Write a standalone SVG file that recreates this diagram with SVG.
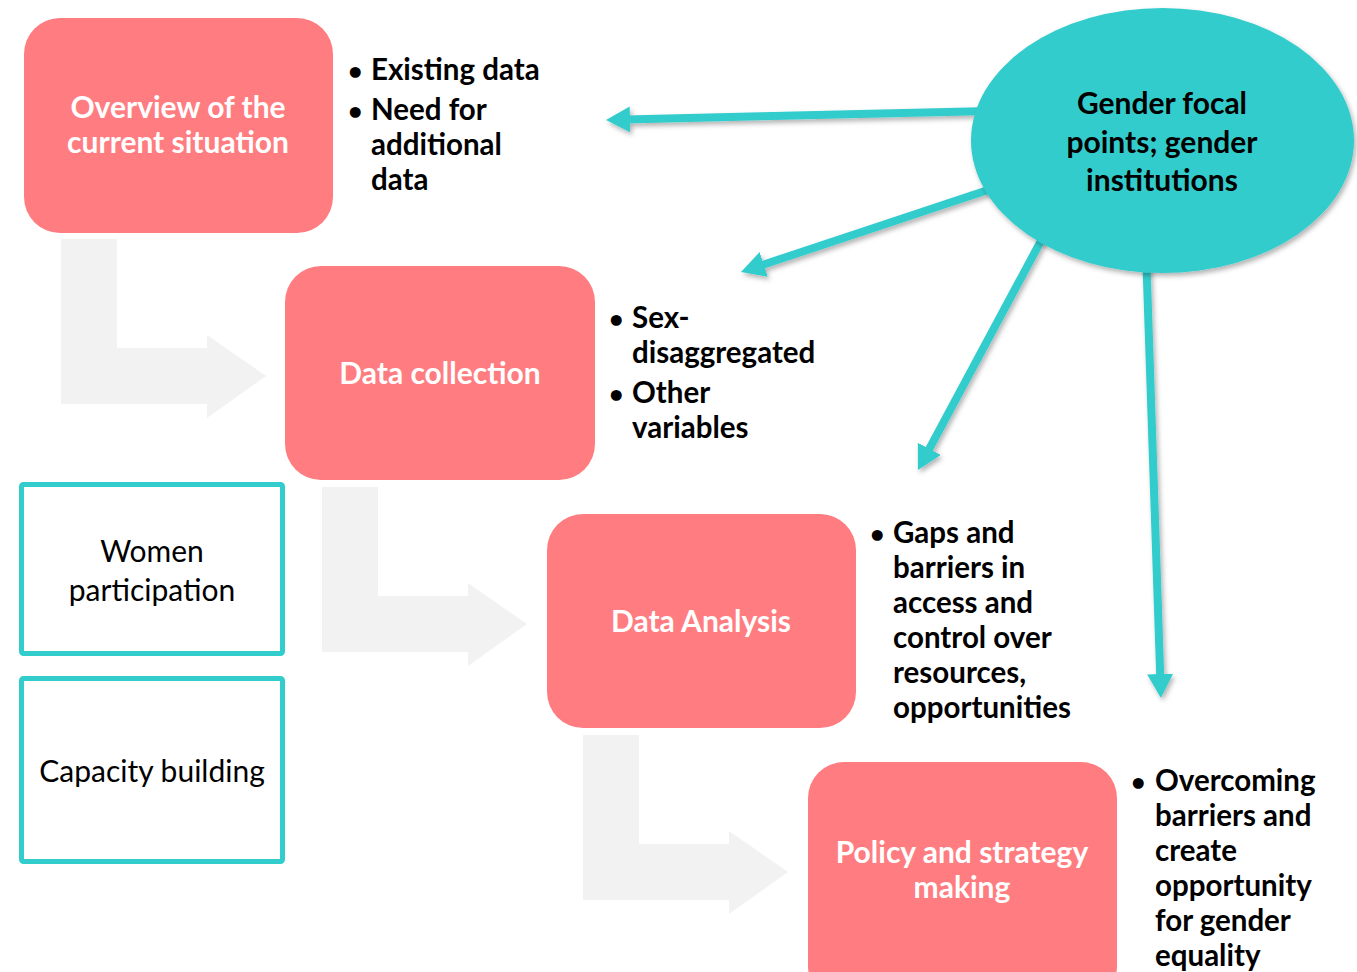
<svg xmlns="http://www.w3.org/2000/svg" width="1357" height="972" viewBox="0 0 1357 972">
  <style>
    .step { fill: #FF7C80; }
    .step-label { font-family: Lato, "Open Sans", sans-serif; font-weight: 700; font-size: 30px; fill: #FFFFFF; text-anchor: middle; }
    .bullets { font-family: Lato, "Open Sans", sans-serif; font-weight: 700; font-size: 29.5px; fill: #000000; }
    .dot { font-size: 25px; }
    .flow { fill: #F2F2F2; }
    .side { fill: #FFFFFF; stroke: #33CCCC; stroke-width: 5; }
    .side-label { font-family: Lato, "Open Sans", sans-serif; font-size: 30px; fill: #000000; text-anchor: middle; }
    .hub { fill: #33CCCC; }
    .hub-label { font-family: Lato, "Open Sans", sans-serif; font-weight: 700; font-size: 30px; fill: #000000; text-anchor: middle; }
    .link { stroke: #33CCCC; stroke-width: 8; fill: none; marker-end: url(#head); }
  </style>
  <defs>
    <marker id="head" markerUnits="userSpaceOnUse" markerWidth="26" markerHeight="28" refX="4" refY="13" orient="auto">
      <path d="M0,0 L24,13 L0,26 Z" fill="#33CCCC"/>
    </marker>
    <filter id="shadow" x="-20%" y="-20%" width="140%" height="140%">
      <feDropShadow dx="2" dy="3" stdDeviation="2.5" flood-color="#000000" flood-opacity="0.3"/>
    </filter>
    <!-- bent flow arrow between consecutive steps -->
    <path id="bend" d="M0,0 H56 V109 H146 V96 L205,137 L146,179 V165 H0 Z"/>
  </defs>

  <!-- flow arrows -->
  <g id="flow-arrows" class="flow">
    <use href="#bend" x="61" y="239"/>
    <use href="#bend" x="322" y="487"/>
    <use href="#bend" x="583" y="735"/>
  </g>

  <!-- process steps -->
  <g id="step-overview">
    <rect class="step" x="24" y="18" width="309" height="215" rx="36"/>
    <text class="step-label" x="178" y="118">Overview of the</text>
    <text class="step-label" x="178" y="153">current situation</text>
  </g>
  <g id="notes-overview" class="bullets">
    <text class="dot" x="348" y="80">•</text>
    <text x="371" y="80">Existing data</text>
    <text class="dot" x="348" y="120">•</text>
    <text x="371" y="120">Need for</text>
    <text x="371" y="155">additional</text>
    <text x="371" y="190">data</text>
  </g>

  <g id="step-collection">
    <rect class="step" x="285" y="266" width="310" height="214" rx="36"/>
    <text class="step-label" x="440" y="384">Data collection</text>
  </g>
  <g id="notes-collection" class="bullets">
    <text class="dot" x="609" y="328">•</text>
    <text x="632" y="328">Sex-</text>
    <text x="632" y="363">disaggregated</text>
    <text class="dot" x="609" y="403">•</text>
    <text x="632" y="403">Other</text>
    <text x="632" y="438">variables</text>
  </g>

  <g id="step-analysis">
    <rect class="step" x="547" y="514" width="309" height="214" rx="36"/>
    <text class="step-label" x="701" y="632">Data Analysis</text>
  </g>
  <g id="notes-analysis" class="bullets">
    <text class="dot" x="870" y="543">•</text>
    <text x="893" y="543">Gaps and</text>
    <text x="893" y="578">barriers in</text>
    <text x="893" y="613">access and</text>
    <text x="893" y="648">control over</text>
    <text x="893" y="683">resources,</text>
    <text x="893" y="718">opportunities</text>
  </g>

  <g id="step-policy">
    <rect class="step" x="808" y="762" width="309" height="240" rx="36"/>
    <text class="step-label" x="962" y="863">Policy and strategy</text>
    <text class="step-label" x="962" y="898">making</text>
  </g>
  <g id="notes-policy" class="bullets">
    <text class="dot" x="1131" y="791">•</text>
    <text x="1155" y="791">Overcoming</text>
    <text x="1155" y="826">barriers and</text>
    <text x="1155" y="861">create</text>
    <text x="1155" y="896">opportunity</text>
    <text x="1155" y="931">for gender</text>
    <text x="1155" y="966">equality</text>
  </g>

  <!-- cross-cutting themes -->
  <g id="women-participation">
    <rect class="side" x="21.5" y="484.5" width="261" height="169" rx="2"/>
    <text class="side-label" x="152" y="562">Women</text>
    <text class="side-label" x="152" y="601">participation</text>
  </g>
  <g id="capacity-building">
    <rect class="side" x="21.5" y="678.5" width="261" height="183" rx="2"/>
    <text class="side-label" x="152" y="782">Capacity building</text>
  </g>

  <!-- links from the gender focal points -->
  <g id="connectors" filter="url(#shadow)">
    <line class="link" x1="990" y1="111" x2="626" y2="119.5"/>
    <line class="link" x1="1000" y1="186" x2="760" y2="265.7"/>
    <line class="link" x1="1050" y1="224" x2="927.4" y2="452.4"/>
    <line class="link" x1="1146" y1="250" x2="1160.3" y2="678"/>
  </g>

  <g id="gender-focal-points">
    <ellipse class="hub" cx="1162.5" cy="140.5" rx="191.5" ry="132.5" filter="url(#shadow)"/>
    <text class="hub-label" x="1162" y="114">Gender focal</text>
    <text class="hub-label" x="1162" y="153">points; gender</text>
    <text class="hub-label" x="1162" y="191">institutions</text>
  </g>
</svg>
